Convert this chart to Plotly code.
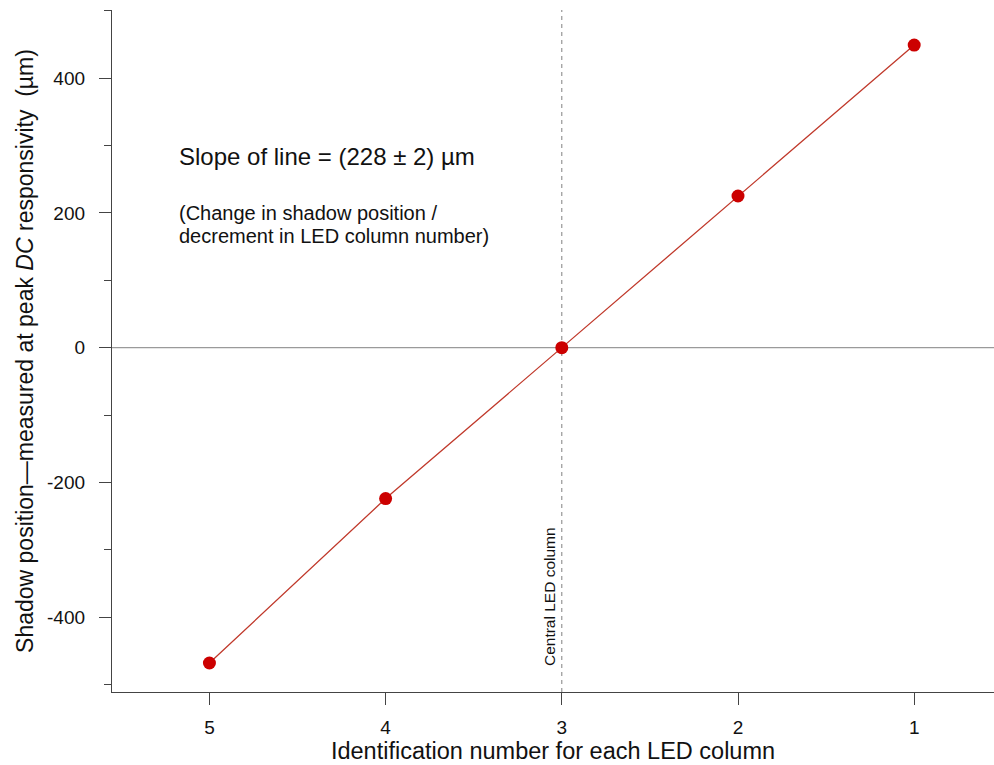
import plotly.graph_objects as go

led_columns = [5, 4, 3, 2, 1]
shadow_positions = [-468, -224, 0, 225, 449]
x_tick_vals = [5, 4, 3, 2, 1]
x_tick_text = ["5", "4", "3", "2", "1"]
y_tick_vals = [-400, -200, 0, 200, 400]
y_tick_text = ["-400", "-200", "0", "200", "400"]

FONT = "Liberation Sans, Arial, sans-serif"

fig = go.Figure()
fig.add_trace(go.Scatter(
    x=led_columns, y=shadow_positions, mode="lines",
    line=dict(color="#c0392b", width=1.3), showlegend=False, hoverinfo="skip"))
fig.add_trace(go.Scatter(
    x=led_columns, y=shadow_positions, mode="markers",
    marker=dict(color="#cc0000", size=13), showlegend=False))

# zero line and central column line
fig.add_hline(y=0, line=dict(color="#9a9a9a", width=1.3), layer="below")
fig.add_vline(x=3, line=dict(color="#808080", width=1, dash="4px,4px"), layer="below")

fig.add_annotation(x=0.0737, y=0.7845, xref="paper", yref="paper", xanchor="left", yanchor="middle",
                   text="Slope of line = (228 ± 2) µm", showarrow=False,
                   font=dict(family=FONT, size=24, color="#111"))
fig.add_annotation(x=0.0737, y=0.702, xref="paper", yref="paper", xanchor="left", yanchor="middle",
                   text="(Change in shadow position /", showarrow=False,
                   align="left", font=dict(family=FONT, size=20, color="#111"))
fig.add_annotation(x=0.0737, y=0.6686, xref="paper", yref="paper", xanchor="left", yanchor="middle",
                   text="decrement in LED column number)", showarrow=False,
                   align="left", font=dict(family=FONT, size=20, color="#111"))
fig.add_annotation(x=3, y=-475, xref="x", yref="y", xanchor="center", yanchor="bottom",
                   text="Central LED column", showarrow=False, textangle=-90,
                   xshift=-13, font=dict(family=FONT, size=15.5, color="#111"))

fig.update_layout(
    width=994, height=765,
    margin=dict(l=112, r=0, t=10, b=73),
    paper_bgcolor="white", plot_bgcolor="white",
    font=dict(family=FONT, size=19, color="#111"),
    xaxis=dict(
        range=[5.553, 0.547], showgrid=False, zeroline=False, automargin=False,
        showline=True, linecolor="#444", linewidth=1.3,
        ticks="outside", ticklen=12, tickcolor="#444", tickwidth=1.3,
        tickvals=x_tick_vals, ticktext=x_tick_text, ticklabelstandoff=6,
        tickfont=dict(size=19),
        title=dict(text="Identification number for each LED column", font=dict(size=23.5), standoff=2),
    ),
    yaxis=dict(
        range=[-511, 501], showgrid=False, zeroline=False, automargin=False,
        showline=True, linecolor="#444", linewidth=1.3,
        ticks="outside", ticklen=12, tickcolor="#444", tickwidth=1.3,
        tickvals=y_tick_vals, ticktext=y_tick_text, ticklabelstandoff=10,
        tickfont=dict(size=19),
        minor=dict(dtick=100, tick0=0, ticks="outside", ticklen=7, tickcolor="#444", tickwidth=1.3, showgrid=False),
        title=dict(text="Shadow position—measured at peak <i>DC</i> responsivity  (µm)", font=dict(size=23), standoff=6),
    ),
)

fig.write_html("out.html", config={"displayModeBar": False},
               post_script="document.body.style.margin='0';document.body.style.overflow='hidden';")
